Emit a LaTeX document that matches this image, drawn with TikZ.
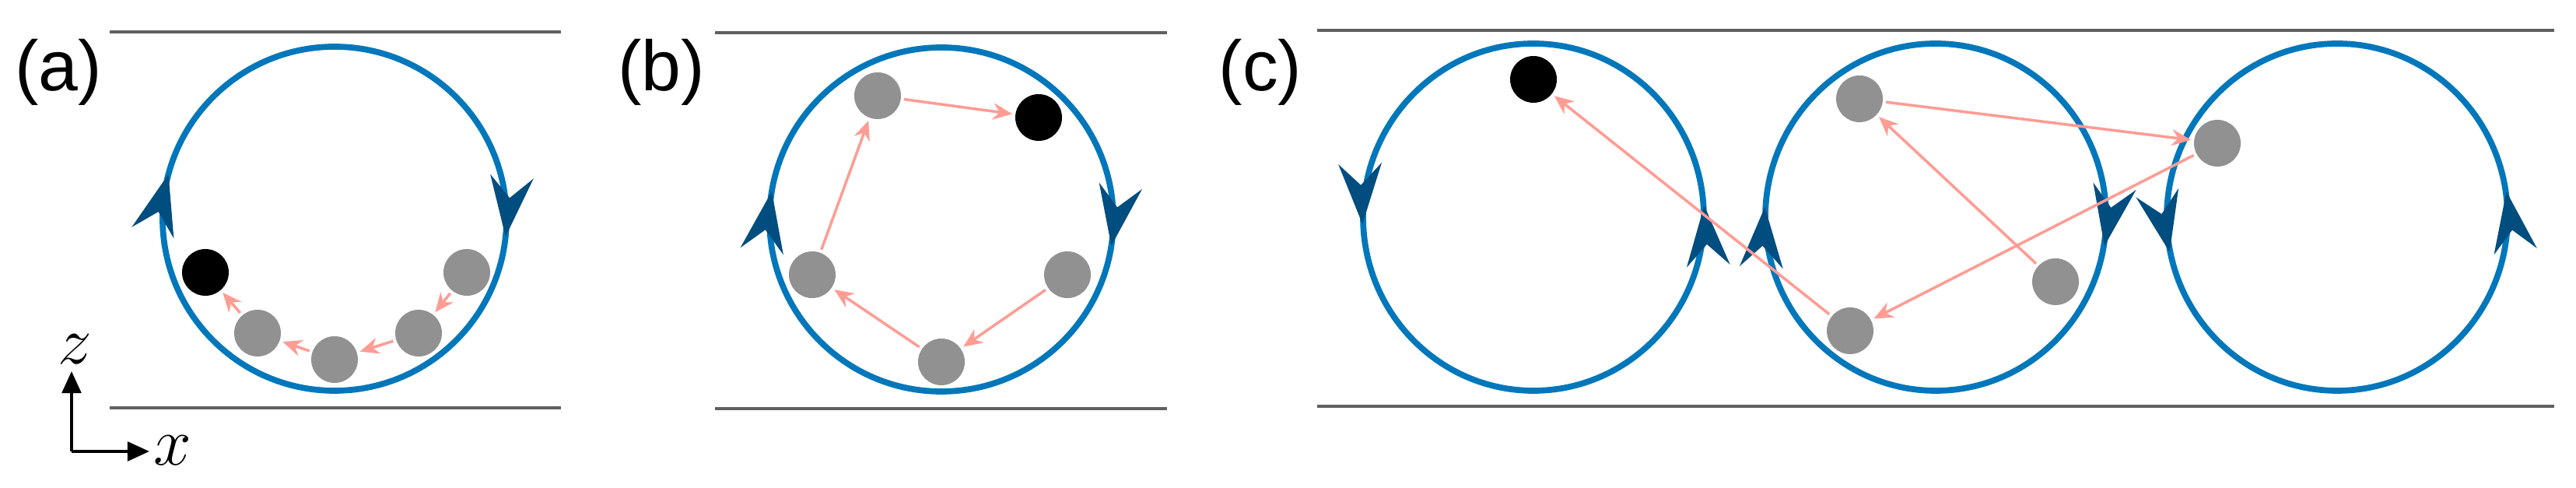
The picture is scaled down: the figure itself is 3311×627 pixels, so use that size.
\documentclass[tikz,border=0pt]{standalone}
\usepackage{fontspec}
\setmainfont{Liberation Sans}
\usetikzlibrary{arrows.meta,calc}
\definecolor{cblue}{HTML}{0077BB}
\definecolor{cdark}{HTML}{004D80}
\definecolor{cpink}{HTML}{FF9C94}
\definecolor{cgray}{HTML}{919191}
\definecolor{cwall}{HTML}{606060}
\tikzset{
  wall/.style={draw=cwall,line width=1.4pt},
  loop/.style={draw=cblue,line width=2.2pt},
  gball/.style={circle,fill=cgray,minimum size=60*0.1mm,inner sep=0pt},
  bball/.style={circle,fill=black,minimum size=60*0.1mm,inner sep=0pt},
  hop/.style={draw=cpink,line width=1pt,-{Stealth[length=7pt,width=6pt]},shorten >=1pt,shorten <=1pt},
  lab/.style={font=\fontsize{26}{28}\selectfont},
  axlab/.style={font=\fontsize{28}{30}\selectfont},
}
\newcommand{\ahead}[4]{% center, radius, theta, tangent angle
  \begin{scope}[shift={($(#1)+(#3:#2)$)},rotate=#4]
    \fill[cdark] (0,0) -- (-78,28) -- (-50,0) -- (-78,-28) -- cycle;
  \end{scope}}
\begin{document}
\begin{tikzpicture}[x=0.1mm,y=0.1mm]
\useasboundingbox (0,0) rectangle (3311,627);
% labels
\node[lab] (la) at (75,534) {(a)};
\node[lab] (lb) at (850,534) {(b)};
\node[lab] (lc) at (1620,534) {(c)};
% walls
\draw[wall] (141,586) -- (721,586);
\draw[wall] (141,103) -- (721,103);
\draw[wall] (919,585) -- (1500,585);
\draw[wall] (919,102) -- (1500,102);
\draw[wall] (1693,588) -- (3283,588);
\draw[wall] (1693,105) -- (3283,105);
% circles
\coordinate (ca) at (430,346);
\coordinate (cb) at (1210,345);
\coordinate (c1) at (1971,348);
\coordinate (c2) at (2488,348);
\coordinate (c3) at (3004,348);
\draw[loop] (ca) circle (221);
\draw[loop] (cb) circle (221);
\draw[loop] (c1) ellipse (219 and 223);
\draw[loop] (c2) ellipse (219 and 223);
\draw[loop] (c3) ellipse (219 and 223);
% arrowheads
\ahead{ca}{221}{165}{75}
\ahead{ca}{221}{-6}{-96}
\ahead{cb}{221}{170.6}{80.6}
\ahead{cb}{221}{-8.8}{-98.8}
\ahead{c1}{220}{182.3}{272.3}
\ahead{c1}{220}{3.9}{93.9}
\ahead{c2}{220}{176.6}{86.6}
\ahead{c2}{220}{-9.7}{-99.7}
\ahead{c3}{220}{191.8}{281.8}
\ahead{c3}{220}{8.6}{98.6}
% panel a balls
\node[bball] (a0) at (264,277) {};
\node[gball] (a1) at (331,199) {};
\node[gball] (a2) at (430,165) {};
\node[gball] (a3) at (538,199) {};
\node[gball] (a4) at (600,277) {};
\draw[hop] (a4) -- (a3);
\draw[hop] (a3) -- (a2);
\draw[hop] (a2) -- (a1);
\draw[hop] (a1) -- (a0);
% panel b balls
\node[gball] (b1) at (1372,274) {};
\node[gball] (b2) at (1210,162) {};
\node[gball] (b3) at (1044,274) {};
\node[gball] (b4) at (1128,504) {};
\node[bball] (b0) at (1335,476) {};
\draw[hop] (b1) -- (b2);
\draw[hop] (b2) -- (b3);
\draw[hop] (b3) -- (b4);
\draw[hop] (b4) -- (b0);
% panel c balls
\node[bball] (k0) at (1971,525) {};
\node[gball] (k1) at (2390,500) {};
\node[gball] (k2) at (2850,443) {};
\node[gball] (k3) at (2642,265) {};
\node[gball] (k4) at (2378,202) {};
\draw[hop] (k3) -- (k1);
\draw[hop] (k1) -- (k2);
\draw[hop] (k2) -- (k4);
\draw[hop] (k4) -- (k0);
% axes
\coordinate (o) at (92,47);
\coordinate (zt) at (92,150);
\coordinate (xt) at (192,47);
\draw[line width=1.1pt,-{Triangle[length=8pt,width=7pt]}] (o) -- (zt);
\draw[line width=1.1pt,-{Triangle[length=8pt,width=7pt]}] (o) -- (xt);
\node[axlab] (zl) at (96,178) {$z$};
\node[axlab] (xl) at (222,48) {$x$};
\end{tikzpicture}
\end{document}
